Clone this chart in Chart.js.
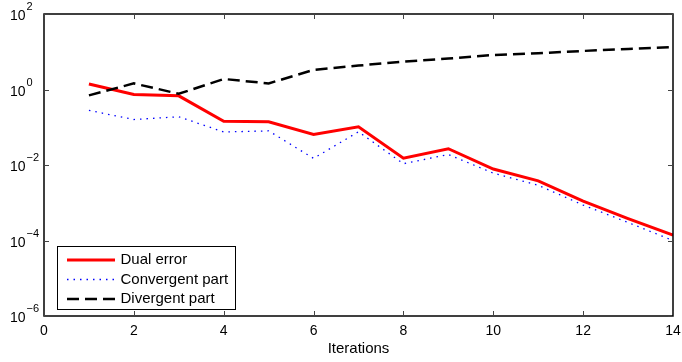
<!DOCTYPE html>
<html>
<head>
<meta charset="utf-8">
<script src="https://cdn.jsdelivr.net/npm/chart.js@4.4.1/dist/chart.umd.min.js"></script>
<style>
html, body { margin: 0; padding: 0; background: #fff; }
#wrap { width: 682px; height: 362px; }
</style>
</head>
<body>
<div id="wrap"><canvas id="chart" width="682" height="362"></canvas></div>
<script>
// data
const iterations = [1, 2, 3, 4, 5, 6, 7, 8, 9, 10, 11, 12, 13, 14];
const dualError = [1.4, 0.74, 0.68, 0.144, 0.14, 0.064, 0.103, 0.0152, 0.027, 0.0078, 0.0038, 0.0011, 0.00038, 0.00014];
const convergentPart = [0.28, 0.16, 0.19, 0.075, 0.08, 0.015, 0.076, 0.0108, 0.019, 0.0061, 0.0029, 0.00087, 0.0003, 0.0001];
const divergentPart = [0.7, 1.45, 0.77, 1.9, 1.45, 3.3, 4.3, 5.5, 6.6, 8.2, 9.1, 10.5, 11.8, 13.2];
const xTicks = [0, 2, 4, 6, 8, 10, 12, 14];
const yExponents = [-6, -4, -2, 0, 2];
const seriesLabels = ['Dual error', 'Convergent part', 'Divergent part'];

const FONT = '"Liberation Sans", Arial, Helvetica, sans-serif';

function toPoints(values) {
    return iterations.map((x, i) => ({ x: x, y: values[i] }));
}

// box, inward ticks, 10^n labels and legend, MATLAB style
const matlabAxes = {
    id: 'matlabAxes',
    afterDraw(chart) {
        const ctx = chart.ctx;
        const area = chart.chartArea;
        const xs = chart.scales.x;
        const ys = chart.scales.y;
        const tick = 5;

        ctx.save();
        ctx.strokeStyle = '#000';
        ctx.lineWidth = 1.5;
        ctx.strokeRect(area.left, area.top, area.right - area.left, area.bottom - area.top);

        ctx.lineWidth = 1;
        ctx.strokeStyle = '#444';
        ctx.beginPath();
        xTicks.forEach(v => {
            const px = Math.round(xs.getPixelForValue(v)) + 0.5;
            ctx.moveTo(px, area.bottom);
            ctx.lineTo(px, area.bottom - tick);
            ctx.moveTo(px, area.top);
            ctx.lineTo(px, area.top + tick);
        });
        yExponents.forEach(e => {
            const py = Math.round(ys.getPixelForValue(Math.pow(10, e))) + 0.5;
            ctx.moveTo(area.left, py);
            ctx.lineTo(area.left + tick, py);
            ctx.moveTo(area.right, py);
            ctx.lineTo(area.right - tick, py);
        });
        ctx.stroke();

        // y labels: "10" with a raised exponent
        ctx.fillStyle = '#000';
        ctx.textAlign = 'left';
        ctx.textBaseline = 'alphabetic';
        yExponents.forEach(e => {
            const py = ys.getPixelForValue(Math.pow(10, e));
            ctx.font = '14px ' + FONT;
            ctx.fillText('10', 10, py + 6);
            ctx.font = '11px ' + FONT;
            const exp = e < 0 ? '\u2212' + Math.abs(e) : String(e);
            ctx.fillText(exp, 26.5, py - 4);
        });

        // legend box in the lower left corner
        const lx = area.left + 13.5;
        const ly = area.bottom - 69.5;
        const lw = 178;
        const lh = 63;
        ctx.fillStyle = '#fff';
        ctx.fillRect(lx, ly, lw, lh);
        ctx.strokeStyle = '#000';
        ctx.lineWidth = 1;
        ctx.strokeRect(lx, ly, lw, lh);

        ctx.font = '15px ' + FONT;
        ctx.textBaseline = 'middle';
        chart.data.datasets.forEach((ds, i) => {
            const ry = ly + 13.5 + i * 19.5;
            ctx.beginPath();
            ctx.strokeStyle = ds.borderColor;
            ctx.lineWidth = ds.borderWidth;
            ctx.setLineDash(ds.borderDash || []);
            ctx.moveTo(lx + 9.5, ry);
            ctx.lineTo(lx + 57.5, ry);
            ctx.stroke();
            ctx.setLineDash([]);
            ctx.fillStyle = '#000';
            ctx.fillText(ds.label, lx + 63, ry);
        });
        ctx.restore();
    }
};

new Chart(document.getElementById('chart'), {
    type: 'line',
    data: {
        datasets: [{
            label: seriesLabels[0],
            data: toPoints(dualError),
            borderColor: '#ff0000',
            borderWidth: 3,
            pointRadius: 0,
            tension: 0,
            order: 3
        }, {
            label: seriesLabels[1],
            data: toPoints(convergentPart),
            borderColor: '#0000ff',
            borderWidth: 1.3,
            borderDash: [1.5, 5],
            pointRadius: 0,
            tension: 0,
            order: 2
        }, {
            label: seriesLabels[2],
            data: toPoints(divergentPart),
            borderColor: '#000000',
            borderWidth: 2.5,
            borderDash: [12, 6],
            pointRadius: 0,
            tension: 0,
            order: 1
        }]
    },
    options: {
        responsive: false,
        animation: false,
        devicePixelRatio: 1,
        layout: { padding: { left: 0, right: 9, top: 14, bottom: 0 } },
        plugins: {
            legend: { display: false },
            tooltip: { enabled: false }
        },
        scales: {
            x: {
                type: 'linear',
                min: 0,
                max: 14,
                afterBuildTicks: scale => { scale.ticks = xTicks.map(v => ({ value: v })); },
                afterFit: scale => {
                    scale.height = 46;
                    scale.paddingLeft = 0;
                    scale.paddingRight = 0;
                },
                grid: { display: false, drawTicks: false },
                border: { display: false },
                ticks: {
                    color: '#000',
                    font: { family: FONT, size: 14 },
                    padding: 7,
                    maxRotation: 0
                },
                title: {
                    display: true,
                    text: 'Iterations',
                    color: '#000',
                    font: { family: FONT, size: 15 },
                    padding: { top: 4, bottom: 4 }
                }
            },
            y: {
                type: 'logarithmic',
                min: 1e-6,
                max: 1e2,
                afterBuildTicks: scale => { scale.ticks = yExponents.map(e => ({ value: Math.pow(10, e) })); },
                afterFit: scale => {
                    scale.width = 44;
                    scale.paddingTop = 0;
                    scale.paddingBottom = 0;
                },
                grid: { display: false, drawTicks: false },
                border: { display: false },
                ticks: { display: false }
            }
        }
    },
    plugins: [matlabAxes]
});
</script>
</body>
</html>
